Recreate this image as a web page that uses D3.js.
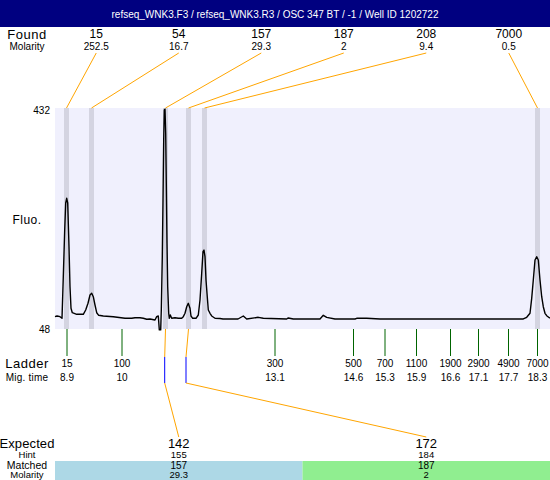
<!DOCTYPE html>
<html>
<head>
<meta charset="utf-8">
<script src="https://cdn.jsdelivr.net/npm/d3@7"></script>
<style>
  html, body { margin: 0; padding: 0; background: #fff; }
  svg { display: block; font-family: "Liberation Sans", Arial, sans-serif; }
</style>
</head>
<body>
<svg id="chart" width="550" height="480"></svg>
<script>
// ---------- data ----------
const title = "refseq_WNK3.F3 / refseq_WNK3.R3 / OSC 347 BT / -1 / Well ID 1202722";

const foundSizes = ["15", "54", "157", "187", "208", "7000"];
const foundMolarity = ["252.5", "16.7", "29.3", "2", "9.4", "0.5"];
const foundTimes = [8.89, 9.39, 10.87, 11.33, 11.65, 18.31];

const ladderSizes = ["15", "100", "300", "500", "700", "1100", "1900", "2900", "4900", "7000"];
const ladderTimes = [8.9, 10.0, 13.06, 14.63, 15.26, 15.89, 16.57, 17.13, 17.73, 18.31];
const ladderTimeLabels = ["8.9", "10", "13.1", "14.6", "15.3", "15.9", "16.6", "17.1", "17.7", "18.3"];

const yTicks = [48, 432];

const expectedSizes = ["142", "172"];
const hintSizes = ["155", "184"];
const hintTimes = [10.854, 11.28];
const matchedIndex = [2, 3];
const matchedSizes = ["157", "187"];
const matchedMolarity = ["29.3", "2"];
const matchedColors = ["#add8e6", "#90ee90"];

const traceTime = [8.66, 8.70, 8.76, 8.80, 8.826, 8.854, 8.874, 8.894, 8.914, 8.94, 8.96, 8.98, 9.006, 9.094, 9.226, 9.274, 9.32, 9.36, 9.394, 9.426, 9.46, 9.494, 9.534, 9.626, 9.826, 10.06, 10.194, 10.26, 10.36, 10.426, 10.494, 10.56, 10.66, 10.694, 10.726, 10.746, 10.774, 10.786, 10.806, 10.82, 10.834, 10.846, 10.86, 10.874, 10.886, 10.90, 10.914, 10.934, 10.946, 10.966, 10.994, 11.06, 11.126, 11.194, 11.226, 11.26, 11.294, 11.326, 11.36, 11.38, 11.414, 11.48, 11.526, 11.56, 11.594, 11.62, 11.64, 11.66, 11.68, 11.70, 11.726, 11.76, 11.794, 11.86, 11.96, 12.02, 12.32, 12.426, 12.494, 12.726, 12.826, 13.294, 13.326, 13.426, 13.96, 14.026, 14.094, 14.26, 14.66, 14.694, 14.894, 15.16, 15.36, 18.026, 18.094, 18.16, 18.194, 18.226, 18.26, 18.294, 18.326, 18.36, 18.394, 18.426, 18.46, 18.494, 18.546, 18.56];
const traceFluo = [69.4, 70.6, 69.4, 66.6, 138.9, 220.0, 266.9, 275.1, 266.9, 191.0, 121.5, 84.0, 76.3, 73.5, 73.5, 81.0, 92.7, 107.1, 110.0, 104.1, 89.7, 76.3, 71.8, 70.6, 69.4, 66.6, 66.6, 67.6, 67.6, 66.6, 64.9, 65.4, 63.6, 69.4, 70.6, 46.5, 46.5, 81.0, 173.6, 272.1, 376.4, 428.5, 430.0, 388.0, 301.2, 196.9, 121.5, 75.3, 66.6, 72.3, 66.6, 67.6, 66.6, 66.6, 69.4, 75.3, 86.7, 92.7, 84.0, 70.6, 66.6, 66.6, 72.3, 98.4, 144.8, 182.3, 185.3, 173.6, 133.1, 110.0, 81.0, 75.3, 70.6, 66.6, 66.3, 65.4, 65.4, 70.6, 65.4, 68.3, 66.6, 65.4, 67.2, 65.4, 65.4, 71.8, 68.3, 65.4, 65.4, 66.6, 66.6, 65.4, 65.4, 65.4, 68.3, 75.3, 101.3, 133.1, 167.9, 173.6, 167.9, 133.1, 104.1, 86.7, 75.3, 71.1, 67.6, 67.0];

// ---------- layout ----------
const W = 550, H = 480;
const plot = { left: 55, right: 550, top: 108, bottom: 329 };
const FONT_BIG = 13, FONT_VAL = 12, FONT_SMALL = 10, FONT_ROW = 9.5;
const labelCX = 27;
const orange = "#ffa500";

const svg = d3.select("#chart");

const x = d3.scaleLinear().domain([8.66, 18.56]).range([plot.left, plot.right]);
const y = d3.scaleLinear().domain([48, 432]).range([plot.bottom, plot.top]);
const foundCol = d3.scaleBand().domain(d3.range(foundSizes.length)).range([55, 550]);
const expCol = d3.scaleBand().domain(d3.range(expectedSizes.length)).range([55, 550]);

// header
svg.append("rect").attr("x", 0).attr("y", 0).attr("width", W).attr("height", 27).attr("fill", "#000080");
svg.append("text").attr("x", W / 2).attr("y", 14).attr("dy", "0.35em")
  .attr("text-anchor", "middle").attr("fill", "#fff").attr("font-size", 10).text(title);

function txt(xp, yp, s, size, anchor, extra) {
  const t = svg.append("text").attr("x", xp).attr("y", yp).attr("dy", "0.35em")
    .attr("text-anchor", anchor || "middle").attr("font-size", size).attr("fill", "#000").text(s);
  if (extra) extra(t);
  return t;
}
const spaced = t => t.attr("letter-spacing", 0.5);

// Found rows
txt(labelCX, 34, "Found", FONT_BIG, "middle", spaced);
txt(labelCX, 46, "Molarity", FONT_SMALL);
foundSizes.forEach((s, i) => {
  const cx = foundCol(i) + foundCol.bandwidth() / 2;
  txt(cx, 34, s, FONT_VAL);
  txt(cx, 46, foundMolarity[i], FONT_SMALL);
});

// plot background
svg.append("rect").attr("x", plot.left).attr("y", plot.top)
  .attr("width", plot.right - plot.left).attr("height", plot.bottom - plot.top).attr("fill", "#f0f0fd");

// peak bands
svg.append("g").selectAll("rect").data(foundTimes).join("rect")
  .attr("x", d => x(d) - 2.5).attr("y", plot.top).attr("width", 5)
  .attr("height", plot.bottom - plot.top).attr("fill", "#d4d4e1");

// top connectors
svg.append("g").selectAll("line").data(foundTimes).join("line")
  .attr("x1", (d, i) => foundCol(i) + foundCol.bandwidth() / 2).attr("y1", 53)
  .attr("x2", d => x(d)).attr("y2", plot.top)
  .attr("stroke", orange).attr("stroke-width", 1);

// y axis labels
const yAxis = d3.axisLeft(y).tickValues(yTicks).tickSize(0).tickPadding(5).tickFormat(d3.format("d"));
const yg = svg.append("g").attr("transform", `translate(${plot.left},0)`).call(yAxis);
yg.select(".domain").remove();
yg.selectAll("text").attr("font-size", FONT_SMALL).attr("font-family", "Liberation Sans, Arial, sans-serif").attr("fill", "#000");
yg.selectAll(".tick").filter(d => d === 432).select("text").attr("dy", "0.55em");
txt(labelCX, 220, "Fluo.", 12, "middle", spaced);

// trace
const trace = traceTime.map((t, i) => [t, traceFluo[i]]);
svg.append("path").datum(trace)
  .attr("d", d3.line().x(d => x(d[0])).y(d => y(d[1])))
  .attr("fill", "none").attr("stroke", "#000").attr("stroke-width", 1.4).attr("stroke-linejoin", "round");

// ladder ticks
svg.append("g").selectAll("line").data(ladderTimes).join("line")
  .attr("x1", d => x(d)).attr("x2", d => x(d)).attr("y1", plot.bottom).attr("y2", 356)
  .attr("stroke", "#006400").attr("stroke-width", 1);
txt(labelCX, 363, "Ladder", FONT_BIG, "middle", spaced);
txt(labelCX, 377, "Mig. time", FONT_SMALL, "middle", t => t.attr("letter-spacing", 0.2));
ladderSizes.forEach((s, i) => {
  txt(x(ladderTimes[i]), 363, s, FONT_SMALL);
  txt(x(ladderTimes[i]), 377, ladderTimeLabels[i], FONT_SMALL);
});

// expected connectors
matchedIndex.forEach((pi, k) => {
  const px = x(foundTimes[pi]);
  const hx = x(hintTimes[k]);
  const ex = expCol(k) + expCol.bandwidth() / 2;
  svg.append("line").attr("x1", px).attr("y1", plot.bottom).attr("x2", hx).attr("y2", 357)
    .attr("stroke", orange);
  svg.append("line").attr("x1", hx).attr("y1", 357).attr("x2", hx).attr("y2", 383)
    .attr("stroke", "#0000ff");
  svg.append("line").attr("x1", hx).attr("y1", 383).attr("x2", ex).attr("y2", 437)
    .attr("stroke", orange);
});

// bottom table
expectedSizes.forEach((s, k) => {
  const x0 = expCol(k);
  const wdt = k === expectedSizes.length - 1 ? 550 - x0 : expCol.bandwidth();
  svg.append("rect").attr("x", x0).attr("y", 461).attr("width", wdt).attr("height", 19).attr("fill", matchedColors[k]);
  const cx = x0 + expCol.bandwidth() / 2;
  txt(cx, 443.5, s, FONT_BIG);
  txt(cx, 455, hintSizes[k], FONT_ROW);
  txt(cx, 465, matchedSizes[k], FONT_ROW + 0.5);
  txt(cx, 474.5, matchedMolarity[k], FONT_ROW);
});
txt(labelCX, 443.5, "Expected", FONT_BIG, "middle", t => t.attr("letter-spacing", 0.1));
txt(labelCX, 455, "Hint", FONT_ROW);
txt(labelCX, 465, "Matched", FONT_ROW + 1);
txt(labelCX, 474.5, "Molarity", FONT_ROW);
</script>
</body>
</html>
